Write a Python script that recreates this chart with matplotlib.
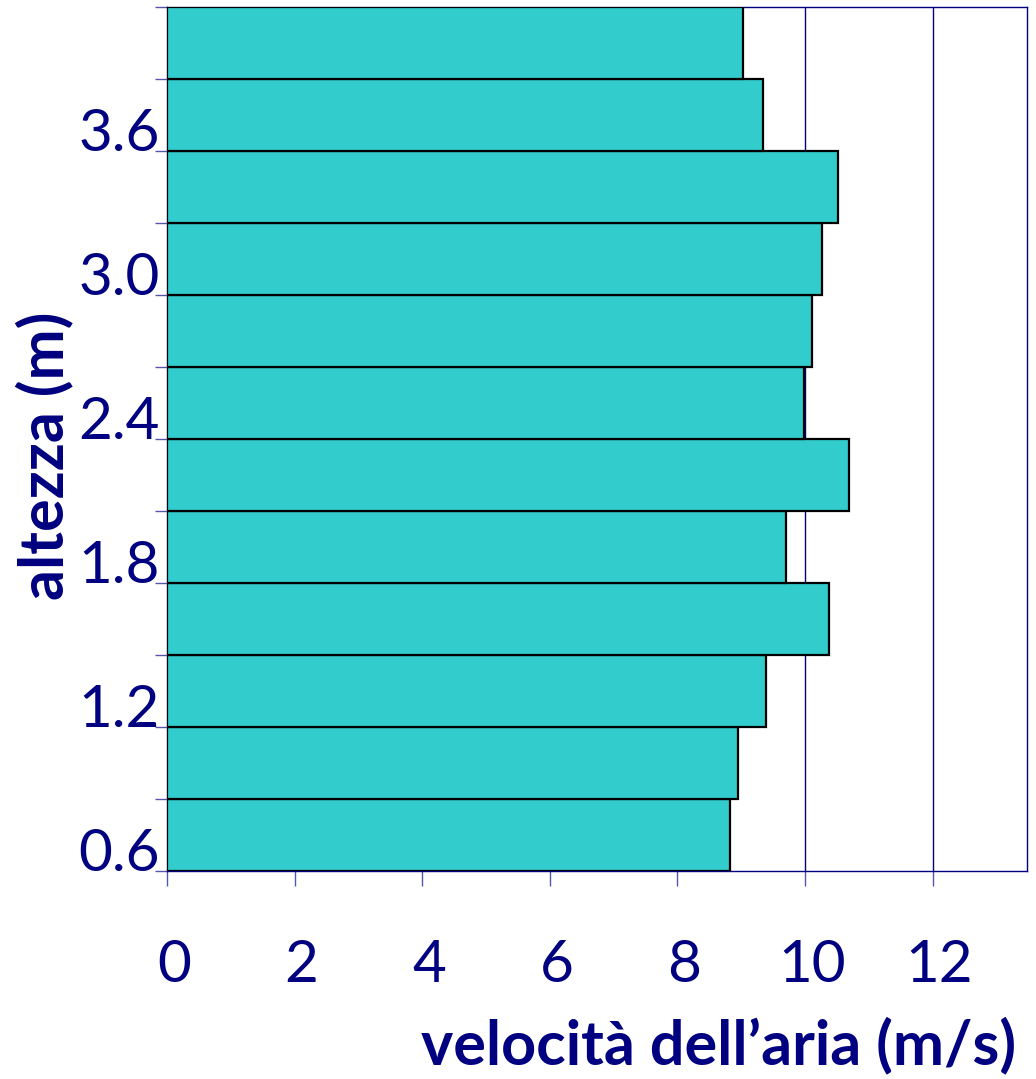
import matplotlib.pyplot as plt
import matplotlib.transforms as mtransforms

# altezza: 12 strati da 0.3 m, da 0.6 a 4.2 m
heights = [0.6, 0.9, 1.2, 1.5, 1.8, 2.1, 2.4, 2.7, 3.0, 3.3, 3.6, 3.9]
speeds = [8.82, 8.95, 9.39, 10.38, 9.70, 10.69, 9.98, 10.11, 10.27, 10.52, 9.34, 9.03]
layer = 0.3

y_ticks = [0.6, 0.9, 1.2, 1.5, 1.8, 2.1, 2.4, 2.7, 3.0, 3.3, 3.6, 3.9, 4.2]
y_labels = ["0.6", "", "1.2", "", "1.8", "", "2.4", "", "3.0", "", "3.6", "", ""]
x_ticks = [0, 2, 4, 6, 8, 10, 12]

navy = "#000080"
plt.rcParams["font.family"] = ["Lato", "DejaVu Sans"]

fig = plt.figure(figsize=(10.36, 10.79), dpi=100)
ax = fig.add_axes([0.1612, 0.1928, 0.8301, 0.8007])

ax.barh(heights, speeds, height=layer, align="edge",
        color="#33CCCC", edgecolor="black", linewidth=1.6, zorder=3)

ax.set_xlim(0, 13.48)
ax.set_ylim(0.6, 4.2)

ax.set_xticks(x_ticks)
ax.set_xticklabels([str(v) for v in x_ticks])
ax.set_yticks(y_ticks)
ax.set_yticklabels(y_labels)

ax.grid(axis="x", color=navy, linewidth=1.0, zorder=0)
ax.grid(axis="y", visible=False)

for s in ax.spines.values():
    s.set_color(navy)
    s.set_linewidth(1.0)

ax.tick_params(axis="x", direction="out", length=11, width=1, color="#5555aa",
               labelsize=42, labelcolor=navy, pad=38)
ax.tick_params(axis="y", direction="out", length=9, width=1, color="#5555aa",
               labelsize=42, labelcolor=navy, pad=-4)
for lbl in ax.get_yticklabels():
    lbl.set_verticalalignment("baseline")

# le etichette dell'asse x sono leggermente spostate a destra
shift = mtransforms.ScaledTranslation(0.07, 0, fig.dpi_scale_trans)
for lbl in ax.get_xticklabels():
    lbl.set_transform(lbl.get_transform() + shift)

fig.text(0.043, 0.578, "altezza (m)", rotation=90, ha="center", va="center",
         fontsize=44, fontweight="bold", color=navy)
fig.text(0.981, 0.031, "velocità dell\u2019aria (m/s)", ha="right", va="center",
         fontsize=44, fontweight="bold", color=navy)

fig.savefig("out.png", dpi=100)
